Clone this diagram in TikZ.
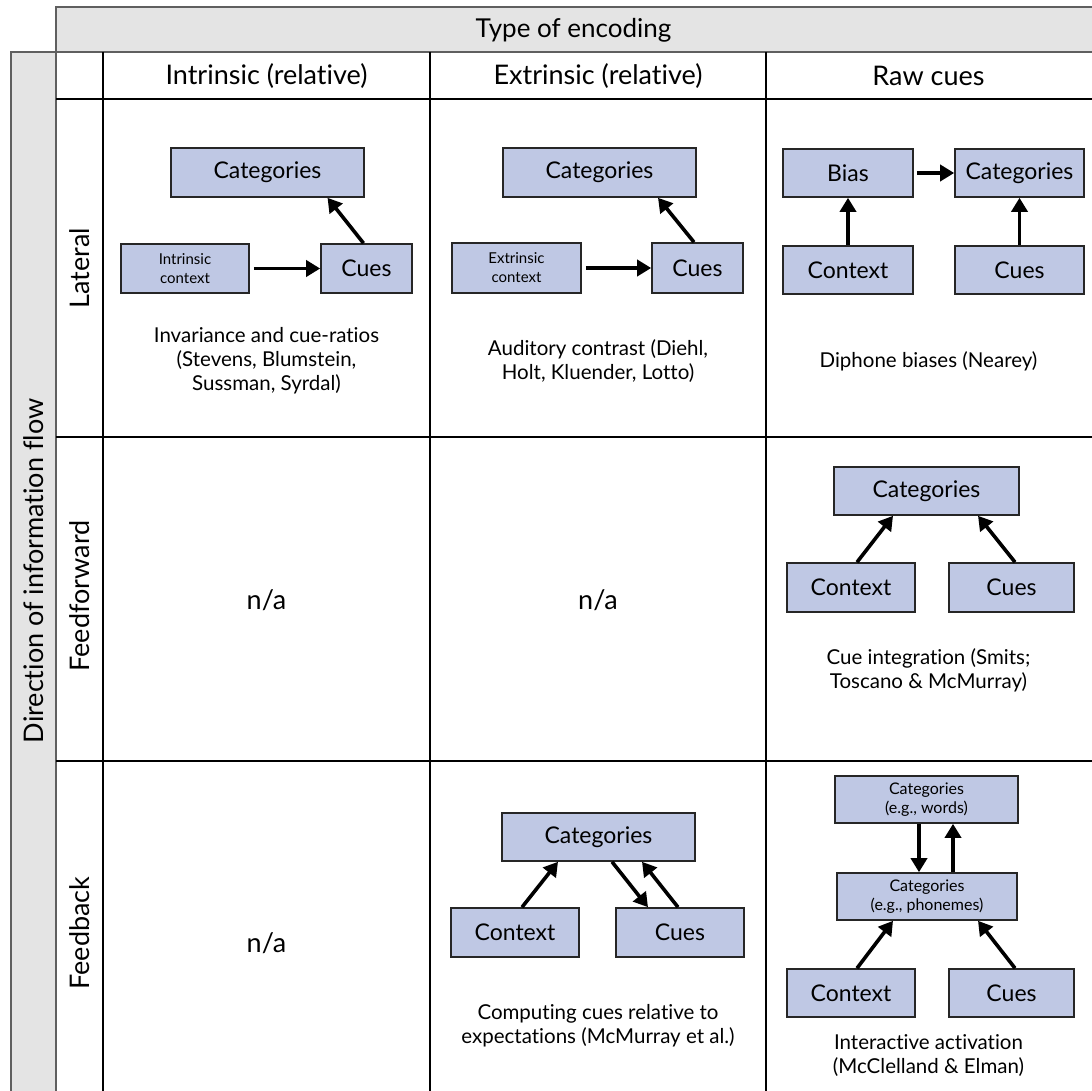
\documentclass[tikz,border=0pt]{standalone}
\usepackage{fontspec}
\setmainfont{Lato}[Ligatures=NoCommon]
\usetikzlibrary{arrows.meta,calc}
\definecolor{boxfill}{RGB}{191,200,228}
\definecolor{bandgray}{RGB}{228,228,228}
\definecolor{bandline}{RGB}{95,95,95}
\begin{document}
\begin{tikzpicture}[x=1pt,y=-1pt,
  box/.style={draw=black!85,line width=1.6pt,fill=boxfill,inner sep=0pt,align=center,font=\fontsize{23}{26}\selectfont},
  smallbox/.style={box,font=\fontsize{15}{19}\selectfont},
  midbox/.style={box,font=\fontsize{16}{18.5}\selectfont},
  flow/.style={line width=3.6pt,-{Triangle[length=14pt,width=16pt]}},
  grid/.style={line width=1.8pt,black},
  bandedge/.style={line width=1.4pt,bandline},
  head/.style={font=\fontsize{27}{30}\selectfont,inner sep=0pt},
  caption/.style={font=\fontsize{20.5}{24}\selectfont,align=center,inner sep=0pt}]
\useasboundingbox (0,0) rectangle (1091,1091);
% bands
\fill[bandgray] (56,7) rectangle (1095,52);
\fill[bandgray] (11,52) rectangle (56,1095);
\fill[white] (56,52) rectangle (1095,1095);
\draw[bandedge] (1095,7) -- (56,7) -- (56,1095);
\draw[bandedge] (11,1095) -- (11,52) -- (1095,52);
% grid
\draw[grid] (56,99) -- (1095,99);
\draw[grid] (56,437) -- (1095,437);
\draw[grid] (56,761) -- (1095,761);
\draw[grid] (103,52) -- (103,1095);
\draw[grid] (430,52) -- (430,1095);
\draw[grid] (766,52) -- (766,1095);
% headers
\node[head,font=\fontsize{26}{30}\selectfont] (title) at (573.5,30) {Type of encoding};
\node[head] (h1) at (266.5,76) {Intrinsic (relative)};
\node[head] (h2) at (598,76) {Extrinsic (relative)};
\node[head] (h3) at (928.5,76) {Raw cues};
\node[head,rotate=90] (dir) at (33.5,571) {Direction of information flow};
\node[head,rotate=90] (r1) at (79.5,268) {Lateral};
\node[head,rotate=90] (r2) at (79.5,596) {Feedforward};
\node[head,rotate=90] (r3) at (79.5,933) {Feedback};
\node[head] (na1) at (266.5,600) {n/a};
\node[head] (na2) at (598,600) {n/a};
\node[head] (na3) at (266.5,943) {n/a};
% Lateral / intrinsic
\node[box,minimum width=193pt,minimum height=49pt] (catA) at (267.5,172.5) {Categories};
\node[smallbox,minimum width=128pt,minimum height=49pt] (ctxA) at (185,268.5) {Intrinsic\\context};
\node[box,minimum width=91pt,minimum height=49pt] (cuesA) at (366.5,268.5) {Cues};
\draw[flow] ([xshift=4pt]ctxA.east) -- (cuesA.west);
\draw[flow] ([xshift=-3pt]cuesA.north) -- ([xshift=60pt]catA.south);
\node[caption] (capA) at (266.5,361) {Invariance and cue-ratios\\(Stevens, Blumstein,\\Sussman, Syrdal)};
% Lateral / extrinsic
\node[box,minimum width=193pt,minimum height=49pt] (catB) at (599.5,172.5) {Categories};
\node[smallbox,minimum width=129pt,minimum height=50pt] (ctxB) at (516.5,268) {Extrinsic\\context};
\node[box,minimum width=91pt,minimum height=50pt] (cuesB) at (697.5,268) {Cues};
\draw[flow] ([xshift=4pt]ctxB.east) -- (cuesB.west);
\draw[flow] ([xshift=-3.5pt]cuesB.north) -- ([xshift=58.5pt]catB.south);
\node[caption] (capB) at (598,361.5) {Auditory contrast (Diehl,\\Holt, Kluender, Lotto)};
% Lateral / raw
\node[box,minimum width=130pt,minimum height=48pt] (biasC) at (848,173) {Bias};
\node[box,minimum width=129pt,minimum height=48pt] (catC) at (1019.5,173) {Categories};
\node[box,minimum width=130pt,minimum height=48pt] (ctxC) at (848,270) {Context};
\node[box,minimum width=129pt,minimum height=48pt] (cuesC) at (1019.5,270) {Cues};
\draw[flow] ([xshift=3pt]biasC.east) -- (catC.west);
\draw[flow] (ctxC.north) -- (biasC.south);
\draw[flow] (cuesC.north) -- (catC.south);
\node[caption] (capC) at (928.5,361) {Diphone biases (Nearey)};
% Feedforward / raw
\node[box,minimum width=185pt,minimum height=48pt] (catD) at (926.5,491) {Categories};
\node[box,minimum width=128pt,minimum height=49pt] (ctxD) at (851,587.5) {Context};
\node[box,minimum width=125pt,minimum height=49pt] (cuesD) at (1011.5,587.5) {Cues};
\draw[flow] ([xshift=6pt]ctxD.north) -- ([xshift=-33.5pt]catD.south);
\draw[flow] ([xshift=3.5pt]cuesD.north) -- ([xshift=51.5pt]catD.south);
\node[caption] (capD) at (928.5,670) {Cue integration (Smits;\\Toscano \& McMurray)};
% Feedback / extrinsic
\node[box,minimum width=193pt,minimum height=48pt] (catE) at (598.5,837) {Categories};
\node[box,minimum width=128pt,minimum height=49pt] (ctxE) at (515,932.5) {Context};
\node[box,minimum width=128pt,minimum height=49pt] (cuesE) at (680,932.5) {Cues};
\draw[flow] ([xshift=7pt]ctxE.north) -- ([xshift=-40.5pt]catE.south);
\draw[flow] ([xshift=13.5pt]catE.south) -- ([xshift=-32pt]cuesE.north);
\draw[flow] ([xshift=-2pt]cuesE.north) -- ([xshift=43.5pt]catE.south);
\node[caption] (capE) at (598,1025.5) {Computing cues relative to\\expectations (McMurray et al.)};
% Feedback / raw
\node[midbox,minimum width=183pt,minimum height=47pt] (wordsF) at (926.5,799.5) {Categories\\(e.g., words)};
\node[midbox,minimum width=180pt,minimum height=47pt] (phonF) at (927,896.5) {Categories\\(e.g., phonemes)};
\node[box,minimum width=128pt,minimum height=48pt] (ctxF) at (851,993) {Context};
\node[box,minimum width=125pt,minimum height=48pt] (cuesF) at (1011.5,993) {Cues};
\draw[flow] ([xshift=-7.5pt]wordsF.south) -- ([xshift=-8pt]phonF.north);
\draw[flow] ([xshift=26pt]phonF.north) -- ([xshift=26.5pt]wordsF.south);
\draw[flow] ([xshift=6pt]ctxF.north) -- ([xshift=-34pt]phonF.south);
\draw[flow] ([xshift=3.5pt]cuesF.north) -- ([xshift=51pt]phonF.south);
\node[caption] (capF) at (928.5,1055.5) {Interactive activation\\(McClelland \& Elman)};
\end{tikzpicture}
\end{document}
